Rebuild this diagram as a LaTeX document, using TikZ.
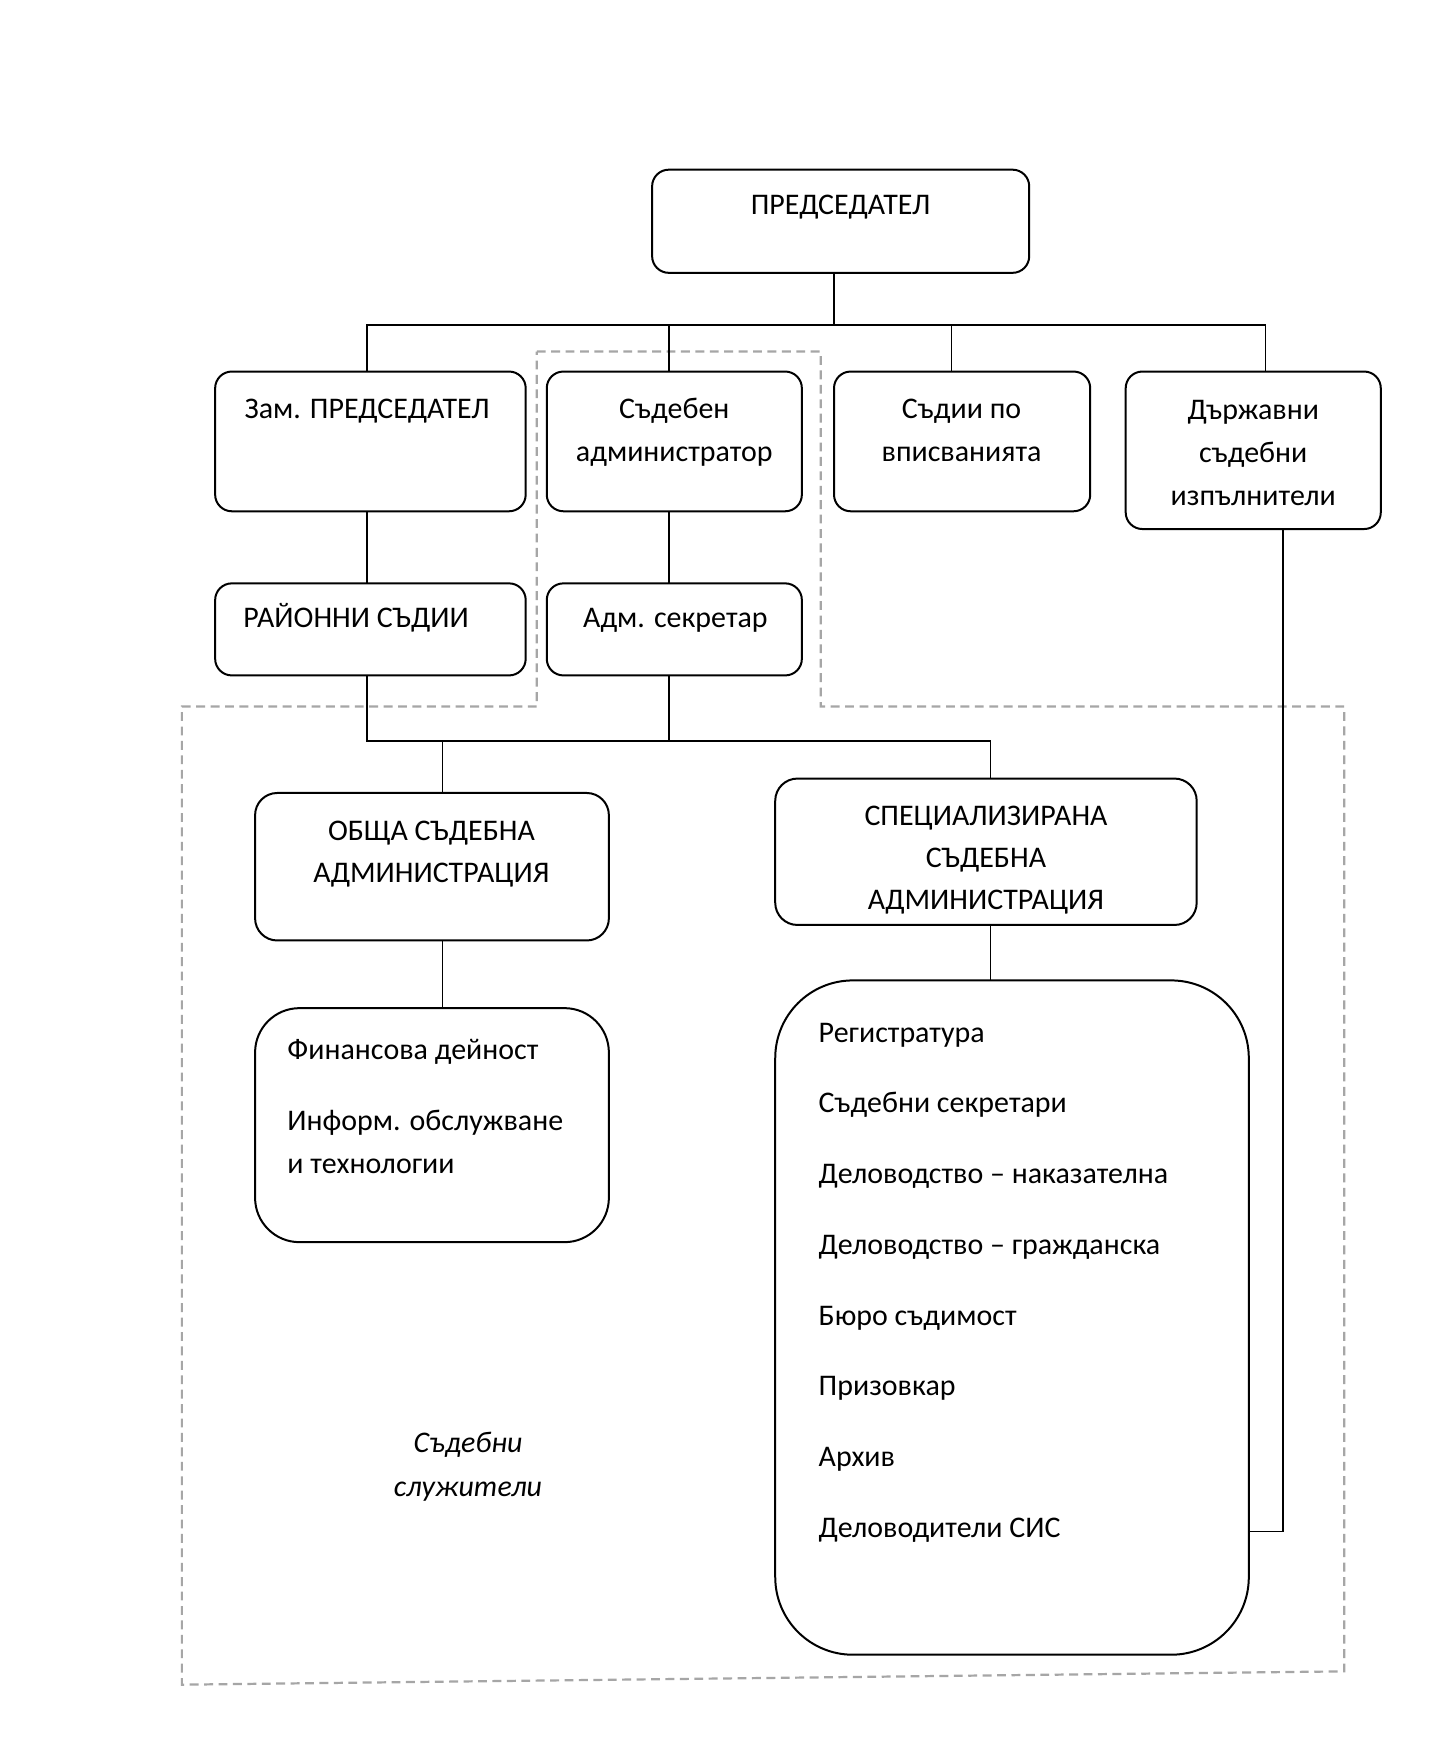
\documentclass[tikz,border=0pt]{standalone}
\usepackage{fontspec}
\setmainfont{Carlito}
\begin{document}
\begin{tikzpicture}[x=1pt,y=-1pt,
  box/.style={draw=black, line width=1.8pt, rounded corners=15pt, inner sep=0pt, outer sep=0pt},
  conn/.style={draw=black, line width=1.4pt},
  grp/.style={draw=black!35, line width=2pt, dash pattern=on 8pt off 5pt},
  lbl/.style={anchor=base, inner sep=0pt, font=\fontsize{27}{39}\selectfont},
  lbll/.style={anchor=base west, inner sep=0pt, font=\fontsize{27}{39}\selectfont},
  lbli/.style={anchor=base, inner sep=0pt, font=\fontsize{27}{39}\selectfont\itshape}]
\useasboundingbox[fill=white] (0,0) rectangle (1299,1568);
% dashed group outline
\draw[grp] (484,317) -- (740,317) -- (740,637) -- (1212,637) -- (1212,1507) -- (164,1519) -- (164,637) -- (484,637) -- cycle;
% boxes
\node[box, minimum width=340pt, minimum height=93pt] (pred) at (758,199.5) {};
\node[box, minimum width=280pt, minimum height=126pt] (zam) at (334,398) {};
\node[box, minimum width=230pt, minimum height=126pt] (sad) at (608,398) {};
\node[box, minimum width=231pt, minimum height=126pt] (vp) at (867.5,398) {};
\node[box, minimum width=230pt, minimum height=142pt] (darzh) at (1130,406) {};
\node[box, minimum width=280pt, minimum height=83pt] (rai) at (334,567.5) {};
\node[box, minimum width=230pt, minimum height=83pt] (adm) at (608,567.5) {};
\node[box, rounded corners=20pt, minimum width=319pt, minimum height=133pt] (obs) at (389.5,781.5) {};
\node[box, rounded corners=20pt, minimum width=380pt, minimum height=132pt] (spec) at (889,768) {};
\node[box, rounded corners=40pt, minimum width=319pt, minimum height=211pt] (fin) at (389.5,1014.5) {};
\node[box, rounded corners=70pt, minimum width=427pt, minimum height=608pt] (list) at (912.5,1188) {};
% labels
\node[lbl] (tpred) at (758,193) {ПРЕДСЕДАТЕЛ};
\node[lbl] (tzam) at (331,377) {Зам. ПРЕДСЕДАТЕЛ};
\node[lbl] (tsad1) at (608,377) {Съдебен};
\node[lbl] (tsad2) at (608,416) {администратор};
\node[lbl] (tvp1) at (867,377) {Съдии по};
\node[lbl] (tvp2) at (867,416) {вписванията};
\node[lbl] (td1) at (1130,378) {Държавни};
\node[lbl] (td2) at (1130,417) {съдебни};
\node[lbl] (td3) at (1130,456) {изпълнители};
\node[lbl] (trai) at (321,566) {РАЙОННИ СЪДИИ};
\node[lbl] (tadm) at (609,566) {Адм. секретар};
\node[lbl] (tobs1) at (389,758) {ОБЩА СЪДЕБНА};
\node[lbl] (tobs2) at (389,796) {АДМИНИСТРАЦИЯ};
\node[lbl] (tsp1) at (889,744) {СПЕЦИАЛИЗИРАНА};
\node[lbl] (tsp2) at (889,782) {СЪДЕБНА};
\node[lbl] (tsp3) at (889,820) {АДМИНИСТРАЦИЯ};
\node[lbll] (tf1) at (259,955) {Финансова дейност};
\node[lbll] (tf2) at (259,1019) {Информ. обслужване};
\node[lbll] (tf3) at (259,1058) {и технологии};
\node[lbll] (l1) at (738,940) {Регистратура};
\node[lbll] (l2) at (738,1003) {Съдебни секретари};
\node[lbll] (l3) at (738,1067) {Деловодство – наказателна};
\node[lbll] (l4) at (738,1131) {Деловодство – гражданска};
\node[lbll] (l5) at (738,1195) {Бюро съдимост};
\node[lbll] (l6) at (738,1258) {Призовкар};
\node[lbll] (l7) at (738,1322) {Архив};
\node[lbll] (l8) at (738,1386) {Деловодители СИС};
\node[lbli] (ts1) at (422,1310) {Съдебни};
\node[lbli] (ts2) at (422,1349) {служители};
% connectors
\coordinate (b1) at (0,293);
\coordinate (b2) at (0,668);
\draw[conn] ([xshift=-6pt]pred.south) -- ([xshift=-6pt]pred.south |- b1);
\draw[conn] ([xshift=-3pt]zam.north) -- ([xshift=-3pt]zam.north |- b1) -- ([xshift=11pt]darzh.north |- b1) -- ([xshift=11pt]darzh.north);
\draw[conn] ([xshift=-5pt]sad.north) -- ([xshift=-5pt]sad.north |- b1);
\draw[conn] ([xshift=-9.5pt]vp.north) -- ([xshift=-9.5pt]vp.north |- b1);
\draw[conn] ([xshift=-3pt]zam.south) -- ([xshift=-3pt]rai.north);
\draw[conn] ([xshift=-5pt]sad.south) -- ([xshift=-5pt]adm.north);
\draw[conn] ([xshift=-3pt]rai.south) -- ([xshift=-3pt]rai.south |- b2) -- ([xshift=4pt]spec.north |- b2) -- ([xshift=4pt]spec.north);
\draw[conn] ([xshift=-5pt]adm.south) -- ([xshift=-5pt]adm.south |- b2);
\draw[conn] ([xshift=9.5pt]obs.north |- b2) -- ([xshift=9.5pt]obs.north);
\draw[conn] ([xshift=9.5pt]obs.south) -- ([xshift=9.5pt]fin.north);
\draw[conn] ([xshift=4pt]spec.south) -- ([xshift=4pt]spec.south |- list.north);
\draw[conn] ([xshift=27pt]darzh.south) |- ([yshift=-193pt]list.east);
\end{tikzpicture}
\end{document}
